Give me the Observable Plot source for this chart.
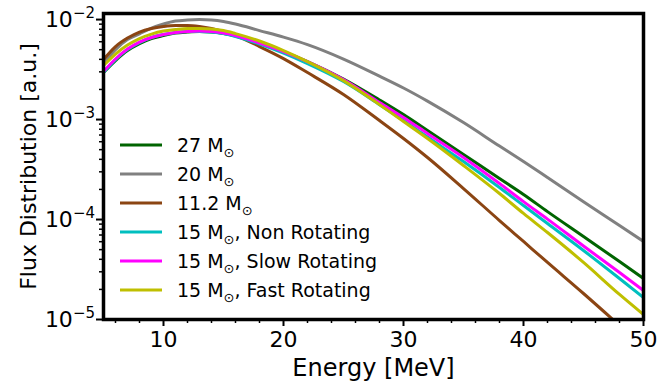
<!DOCTYPE html>
<html><head><meta charset="utf-8">
<script src="https://cdn.jsdelivr.net/npm/d3@7"></script>
<script src="https://cdn.jsdelivr.net/npm/@observablehq/plot@0.6"></script>
<style>
body{margin:0;background:#fff}
#chart{width:668px;height:383px}
</style>
</head><body><div id="chart"></div>
<script>
// Energy grid [MeV]
const energy = [5,6,7,8,9,10,11,12,13,14,15,16,18,20,22,25,28,30,32,35,38,40,42,45,48,50];

// Flux distribution [a.u.] per model
const flux27 = [2.95e-3,3.89e-3,4.90e-3,5.75e-3,6.46e-3,6.92e-3,7.33e-3,7.50e-3,7.59e-3,7.50e-3,7.24e-3,6.84e-3,5.82e-3,4.79e-3,3.80e-3,2.54e-3,1.57e-3,1.12e-3,7.76e-4,4.47e-4,2.57e-4,1.78e-4,1.20e-4,6.76e-5,3.80e-5,2.57e-5];
const flux20 = [3.63e-3,5.01e-3,6.31e-3,7.20e-3,8.20e-3,9.02e-3,9.66e-3,9.89e-3,1.00e-2,9.89e-3,9.55e-3,9.02e-3,7.76e-3,6.68e-3,5.62e-3,4.03e-3,2.72e-3,2.07e-3,1.53e-3,9.33e-4,5.43e-4,3.80e-4,2.63e-4,1.51e-4,8.71e-5,6.03e-5];
const flux112 = [3.98e-3,5.37e-3,6.53e-3,7.50e-3,8.13e-3,8.51e-3,8.71e-3,8.71e-3,8.51e-3,8.13e-3,7.59e-3,6.92e-3,5.37e-3,4.07e-3,2.95e-3,1.78e-3,9.77e-4,6.46e-4,4.17e-4,2.04e-4,9.77e-5,6.03e-5,3.72e-5,1.82e-5,8.71e-6];
const flux15non = [2.95e-3,3.98e-3,5.01e-3,5.89e-3,6.61e-3,7.08e-3,7.41e-3,7.59e-3,7.59e-3,7.50e-3,7.24e-3,6.76e-3,5.69e-3,4.62e-3,3.63e-3,2.40e-3,1.41e-3,9.77e-4,6.68e-4,3.80e-4,2.09e-4,1.38e-4,9.12e-5,4.90e-5,2.57e-5,1.66e-5];
const flux15slow = [3.02e-3,4.03e-3,5.07e-3,5.96e-3,6.61e-3,7.08e-3,7.41e-3,7.59e-3,7.67e-3,7.59e-3,7.33e-3,6.92e-3,5.82e-3,4.79e-3,3.80e-3,2.51e-3,1.48e-3,1.05e-3,7.24e-4,4.17e-4,2.29e-4,1.51e-4,1.01e-4,5.43e-5,2.95e-5,1.95e-5];
const flux15fast = [3.47e-3,4.52e-3,5.56e-3,6.46e-3,7.16e-3,7.67e-3,7.94e-3,8.13e-3,8.13e-3,8.04e-3,7.76e-3,7.24e-3,6.10e-3,4.90e-3,3.80e-3,2.45e-3,1.41e-3,9.55e-4,6.46e-4,3.47e-4,1.82e-4,1.15e-4,7.41e-5,3.72e-5,1.78e-5,1.12e-5];

const seriesNames = ["27 M", "20 M", "11.2 M", "15 M", "15 M", "15 M"];
const seriesSuffix = ["", "", "", ", Non Rotating", ", Slow Rotating", ", Fast Rotating"];
const seriesColors = ["#006400", "#808080", "#8b4513", "#00bfbf", "#ff00ff", "#bfbf00"];
const seriesValues = [flux27, flux20, flux112, flux15non, flux15slow, flux15fast];

const xMajor = [10,20,30,40,50];
const xMinor = [6,8,12,14,16,18,22,24,26,28,32,34,36,38,42,44,46,48];
const yMajor = [1e-5,1e-4,1e-3,1e-2];
const yMinor = [];
for (const d of [1e-5,1e-4,1e-3]) for (let k = 2; k <= 9; k++) yMinor.push(+(k*d).toPrecision(3));

const keys = seriesNames.map((n,i) => "s" + i);
const rows = [];
seriesValues.forEach((vals, si) => {
  vals.forEach((v, i) => rows.push({series: keys[si], energy: energy[i], flux: v}));
});

const font = "DejaVu Sans";
const plot = Plot.plot({
  width: 668,
  height: 383,
  marginLeft: 103,
  marginRight: 25,
  marginTop: 13,
  marginBottom: 64,
  style: {fontFamily: font, color: "black", background: "white", overflow: "visible"},
  x: {domain: [5, 50]},
  y: {type: "log", domain: [1e-5, 1.15e-2]},
  color: {domain: keys, range: seriesColors},
  marks: [
    Plot.line(rows, {x: "energy", y: "flux", z: "series", stroke: "series", strokeWidth: 3, curve: "monotone-x", clip: true}),
    Plot.axisX({ticks: xMinor, tickSize: 4, strokeWidth: 1.5, tickFormat: () => "", label: null}),
    Plot.axisX({ticks: xMajor, tickSize: 7, strokeWidth: 2, tickPadding: 5, fontSize: 22, tickFormat: d => String(d), label: null}),
    Plot.axisY({ticks: yMinor, tickSize: 4, strokeWidth: 1.5, tickFormat: () => "", label: null}),
    Plot.axisY({ticks: yMajor, tickSize: 7, strokeWidth: 2, tickFormat: () => "", label: null}),
    Plot.frame({stroke: "black", strokeWidth: 3.5}),
    Plot.text(["Energy [MeV]"], {frameAnchor: "bottom", dy: 49, fontSize: 24, fill: "black", textAnchor: "middle", lineAnchor: "middle"}),
    Plot.text(["Flux Distribution [a.u.]"], {frameAnchor: "left", dx: -75, rotate: -90, fontSize: 22, fill: "black", textAnchor: "middle", lineAnchor: "middle"})
  ]
});

const svg = d3.select(plot);
const yScale = plot.scale("y");
const xScale = plot.scale("x");
const left = xScale.apply(5);

// Mathtext-like y tick labels: 10 with a raised exponent
const yl = svg.append("g").attr("font-family", font).attr("fill", "black").attr("text-anchor", "end");
yMajor.forEach(v => {
  const y = yScale.apply(v);
  const t = yl.append("text").attr("x", left - 8).attr("y", y + 8);
  t.append("tspan").attr("font-size", 22).text("10");
  t.append("tspan").attr("font-size", 15).attr("dy", -9).text("\u2212" + String(-Math.round(Math.log10(v))));
});

// Legend inside the axes, built from the series arrays
const lg = svg.append("g").attr("font-family", font).attr("font-size", 19).attr("text-anchor", "start");
seriesNames.forEach((name, i) => {
  const cy = 145 + i * 29;
  lg.append("line").attr("x1", left + 17).attr("x2", left + 59).attr("y1", cy).attr("y2", cy)
    .attr("stroke", seriesColors[i]).attr("stroke-width", 3);
  const t = lg.append("text").attr("x", left + 74).attr("y", cy).attr("dy", "0.35em").attr("fill", "black").attr("text-anchor", "start");
  t.append("tspan").text(name);
  t.append("tspan").attr("font-size", 13).attr("dy", 5).text("\u2299");
  t.append("tspan").attr("dy", -5).attr("font-size", 19).text(seriesSuffix[i]);
});

document.getElementById("chart").appendChild(plot);
</script>
</body></html>
